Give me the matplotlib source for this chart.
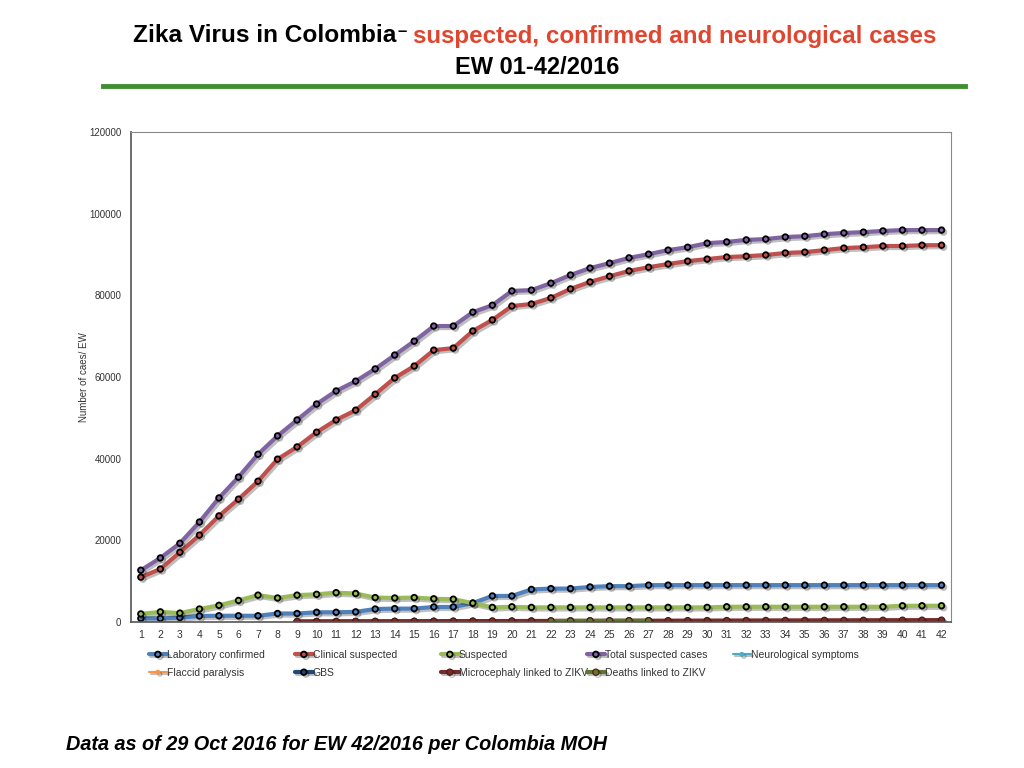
import numpy as np
import matplotlib
matplotlib.use('Agg')
import matplotlib.pyplot as plt
import matplotlib.patheffects as pe

plt.rcParams['font.family'] = ['Liberation Sans', 'DejaVu Sans']

nan = np.nan
weeks = list(range(1, 43))

# cumulative cases per epidemiological week
lab_confirmed = [900, 900, 1100, 1500, 1550, 1550, 1550, 2100, 2100, 2400, 2400, 2500, 3200, 3300,
                 3300, 3700, 3700, 4650, 6400, 6400, 8000, 8200, 8200, 8600, 8800, 8800, 9050, 9050,
                 9050, 9050, 9050, 9050, 9050, 9050, 9050, 9050, 9050, 9050, 9050, 9050, 9050, 9050]
clinical_suspected = [11000, 13000, 17100, 21300, 26000, 30100, 34500, 39900, 42900, 46500, 49500,
                      51900, 55800, 59800, 62700, 66600, 67100, 71300, 74000, 77400, 77900, 79400,
                      81600, 83300, 84700, 86000, 86900, 87700, 88400, 88900, 89400, 89600, 89900,
                      90400, 90600, 91100, 91600, 91800, 92100, 92100, 92300, 92300]
suspected = [2000, 2500, 2200, 3200, 4100, 5300, 6600, 5900, 6600, 6800, 7200, 7000, 6000, 5900,
             6000, 5700, 5600, 4650, 3600, 3750, 3600, 3600, 3600, 3600, 3600, 3600, 3600, 3600,
             3600, 3600, 3750, 3750, 3750, 3750, 3750, 3750, 3750, 3750, 3750, 4000, 4000, 4000]
total_suspected = [12700, 15700, 19300, 24500, 30400, 35500, 41100, 45600, 49500, 53400, 56600,
                   59000, 62000, 65400, 68800, 72500, 72500, 75900, 77600, 81100, 81300, 83000,
                   85000, 86700, 87900, 89200, 90100, 91100, 91800, 92800, 93100, 93600, 93800,
                   94300, 94500, 95000, 95300, 95500, 95800, 96000, 96000, 96000]
neurological = [nan] * 8 + [120, 140, 160, 180, 200, 220, 240, 250, 260, 270, 280, 290, 300, 300,
                            310, 310, 320, 320, 330, 330, 330, 340, 340, 340, 350, 350, 350, 350,
                            360, 360, 360, 360, 360, 360]
flaccid_paralysis = [nan] * 8 + [10] * 34
gbs = [nan] * 8 + [100, 110, 120, 130, 140, 150, 160, 170, 180, 190, 200, 210, 220, 220, 230, 230,
                   240, 240, 240, 250, 250, 250, 250, 260, 260, 260, 260, 260, 260, 260, 260, 260,
                   260, 260]
microcephaly = [nan] * 8 + [150, 160, 170, 180, 190, 200, 210, 220, 230, 240, 250, 260, 270, 280,
                            290, 300, 310, 320, 330, 340, 350, 360, 370, 380, 390, 400, 410, 420,
                            430, 440, 450, 460, 470, 480]
deaths = [nan] * 21 + [280, 290, 300, 310, 320, 330] + [nan] * 15

y_ticks = [0, 20000, 40000, 60000, 80000, 100000, 120000]

fig = plt.figure(figsize=(10.24, 7.68), dpi=100)
ax = fig.add_axes([0.128, 0.190, 0.801, 0.638])

shadow = [pe.SimpleLineShadow(offset=(1.5, -1.5), alpha=0.25), pe.Normal()]

series = [
    ('Laboratory confirmed', lab_confirmed, '#4f81bd', 'big'),
    ('Clinical suspected', clinical_suspected, '#c0504d', 'big'),
    ('Suspected', suspected, '#9bbb59', 'big'),
    ('Total suspected cases', total_suspected, '#8064a2', 'big'),
    ('Neurological symptoms', neurological, '#4bacc6', 'small'),
    ('Flaccid paralysis', flaccid_paralysis, '#f79646', 'small'),
    ('GBS', gbs, '#1f497d', 'big'),
    ('Microcephaly linked to ZIKV', microcephaly, '#772c2a', 'fill'),
    ('Deaths linked to ZIKV', deaths, '#5f7530', 'fill'),
]

handles = {}
for name, vals, col, style in series:
    if style == 'big':
        kw = dict(marker='o', markersize=4, markerfacecolor=col, markeredgecolor='black',
                  markeredgewidth=1.3, lw=3)
    elif style == 'small':
        kw = dict(marker='o', markersize=2.5, markerfacecolor=col, markeredgecolor=col, lw=1.5)
    else:
        kw = dict(marker='o', markersize=4.5, markerfacecolor=col, markeredgecolor='#4a1a18',
                  markeredgewidth=0.8, lw=3)
    line, = ax.plot(weeks, vals, color=col, label=name, path_effects=shadow,
                    solid_capstyle='round', **kw)
    handles[name] = line

ax.set_xlim(0.5, 42.5)
ax.set_ylim(0, 120000)
ax.set_xticks(weeks)
ax.set_yticks(y_ticks)
ax.tick_params(axis='x', length=0, labelsize=7.5, colors='#333333', pad=6)
ax.tick_params(axis='y', length=0, labelsize=7, colors='#333333', pad=7)
ax.set_ylabel('Number of caes/ EW', fontsize=7, color='#333333', labelpad=0)
for s in ['left', 'bottom']:
    ax.spines[s].set_color('#555555')
    ax.spines[s].set_linewidth(1.2)
for s in ['top', 'right']:
    ax.spines[s].set_color('#888888')
    ax.spines[s].set_linewidth(0.8)

# legend in five columns under the plot
legend_cols = [
    ['Laboratory confirmed', 'Flaccid paralysis'],
    ['Clinical suspected', 'GBS'],
    ['Suspected', 'Microcephaly linked to ZIKV'],
    ['Total suspected cases', 'Deaths linked to ZIKV'],
    ['Neurological symptoms'],
]
col_x = [149, 295, 441, 587, 733]
for names, x in zip(legend_cols, col_x):
    fig.legend([handles[n] for n in names], names, loc='upper left',
               bbox_to_anchor=(x / 1024, 1 - 650 / 768), frameon=False, fontsize=7.5,
               labelcolor='#333333', handlelength=1.7, handletextpad=0.0,
               borderaxespad=0, borderpad=0, labelspacing=0.75)

# title
fig.text(133 / 1024, 1 - 36 / 768, 'Zika Virus in Colombia', fontsize=17.6, fontweight='bold',
         ha='left', va='center', color='black')
fig.text(397 / 1024, 1 - 32 / 768, '\u2013', fontsize=12, fontweight='bold',
         ha='left', va='center', color='black')
fig.text(413 / 1024, 1 - 36 / 768, 'suspected, confirmed and neurological cases', fontsize=17.4,
         fontweight='bold', ha='left', va='center', color='#e0452f')
fig.text(537 / 1024, 1 - 68 / 768, 'EW 01-42/2016', fontsize=17, fontweight='bold',
         ha='center', va='center', color='black')
fig.add_artist(plt.Line2D([103 / 1024, 965 / 1024], [1 - 86 / 768, 1 - 86 / 768],
                          color='#3f8f2f', lw=3.5))

fig.text(66 / 1024, 1 - 744 / 768, 'Data as of 29 Oct 2016 for EW 42/2016 per Colombia MOH',
         fontsize=14.3, fontweight='bold', fontstyle='italic', ha='left', va='center')

fig.savefig('out.png', dpi=100)
